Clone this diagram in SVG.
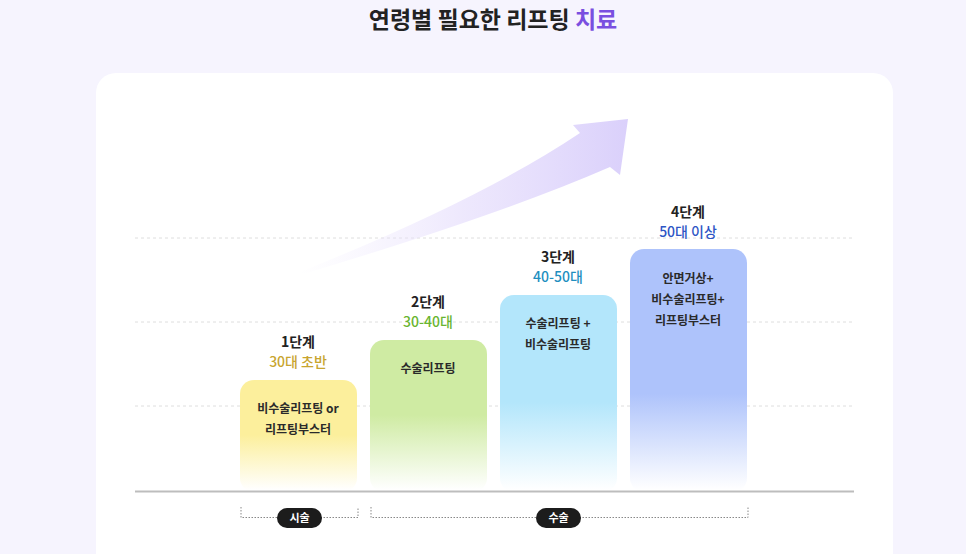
<svg xmlns="http://www.w3.org/2000/svg" width="966" height="554" viewBox="0 0 966 554">
<defs>
<style>
text{font-family:"Noto Sans CJK KR","Noto Sans",sans-serif;text-anchor:middle}
.title{font-size:23px;font-weight:700;fill:#222}
.stage{font-size:14px;font-weight:700;fill:#222}
.age{font-size:14px;font-weight:500}
.bt{font-size:12px;font-weight:700;fill:#2a2a2a}
.pill{font-size:11px;font-weight:700;fill:#fff}
.grid{stroke:#dedede;stroke-width:1;stroke-dasharray:3 3}
.brk{fill:none;stroke:#888;stroke-width:1;stroke-dasharray:1.5 1.5}
</style>
<linearGradient id="g1" gradientUnits="userSpaceOnUse" x1="0" y1="380" x2="0" y2="490"><stop offset="0.5" stop-color="#fcef9c"/><stop offset="1" stop-color="#ffffff"/></linearGradient>
<linearGradient id="g2" gradientUnits="userSpaceOnUse" x1="0" y1="340" x2="0" y2="490"><stop offset="0.5" stop-color="#cfeba3"/><stop offset="1" stop-color="#ffffff"/></linearGradient>
<linearGradient id="g3" gradientUnits="userSpaceOnUse" x1="0" y1="295" x2="0" y2="490"><stop offset="0.55" stop-color="#b3e6fb"/><stop offset="1" stop-color="#ffffff"/></linearGradient>
<linearGradient id="g4" gradientUnits="userSpaceOnUse" x1="0" y1="249" x2="0" y2="490"><stop offset="0.6" stop-color="#aec3fb"/><stop offset="1" stop-color="#ffffff"/></linearGradient>
<linearGradient id="ga" gradientUnits="userSpaceOnUse" x1="300" y1="0" x2="628" y2="0"><stop offset="0" stop-color="#ece6fd" stop-opacity="0"/><stop offset="0.5" stop-color="#e6defc" stop-opacity="0.7"/><stop offset="1" stop-color="#dad0fb"/></linearGradient>
</defs>
<rect width="966" height="554" fill="#f6f4fe"/>
<text class="title" x="493" y="28">연령별 필요한 리프팅 <tspan fill="#7a4fe0">치료</tspan></text>
<rect x="96" y="73" width="797" height="520" rx="20" fill="#ffffff"/>
<g id="grid">
<line class="grid" x1="135" y1="238" x2="855" y2="238"/>
<line class="grid" x1="135" y1="322" x2="855" y2="322"/>
<line class="grid" x1="135" y1="406" x2="855" y2="406"/>
</g>
<g id="arrow">
<path d="M300 272 Q480 200 580 133 L573 125 L628 119 L620 175 L610 167 Q500 215 300 275 Z" fill="url(#ga)"/>
</g>
<g id="stage1">
<rect x="240" y="380" width="117" height="112" rx="14" fill="url(#g1)"/>
<text class="stage" x="298" y="347">1단계</text>
<text class="age" x="298" y="367" fill="#c8a52f">30대 초반</text>
<text class="bt" x="298" y="413">비수술리프팅 or</text>
<text class="bt" x="298" y="434">리프팅부스터</text>
</g>
<g id="stage2">
<rect x="370" y="340" width="117" height="152" rx="14" fill="url(#g2)"/>
<text class="stage" x="428" y="307">2단계</text>
<text class="age" x="428" y="327" fill="#69b52f">30-40대</text>
<text class="bt" x="428" y="373">수술리프팅</text>
</g>
<g id="stage3">
<rect x="500" y="295" width="117" height="197" rx="14" fill="url(#g3)"/>
<text class="stage" x="558" y="262">3단계</text>
<text class="age" x="558" y="282" fill="#1f8fbf">40-50대</text>
<text class="bt" x="558" y="328">수술리프팅 +</text>
<text class="bt" x="558" y="349">비수술리프팅</text>
</g>
<g id="stage4">
<rect x="630" y="249" width="117" height="243" rx="14" fill="url(#g4)"/>
<text class="stage" x="688" y="217">4단계</text>
<text class="age" x="688" y="237" fill="#2d55c5">50대 이상</text>
<text class="bt" x="688" y="283">안면거상+</text>
<text class="bt" x="688" y="304">비수술리프팅+</text>
<text class="bt" x="688" y="325">리프팅부스터</text>
</g>
<line x1="135" y1="491.5" x2="854" y2="491.5" stroke="#bdbdbd" stroke-width="2"/>
<g id="bracket1">
<path class="brk" d="M241 507 V517.5 H358 V507"/>
<rect x="277" y="508" width="45" height="20" rx="10" fill="#1c1c1c"/>
<text class="pill" x="299.5" y="522">시술</text>
</g>
<g id="bracket2">
<path class="brk" d="M371 507 V517.5 H748 V507"/>
<rect x="536" y="508" width="45" height="20" rx="10" fill="#1c1c1c"/>
<text class="pill" x="558.5" y="522">수술</text>
</g>
</svg>
